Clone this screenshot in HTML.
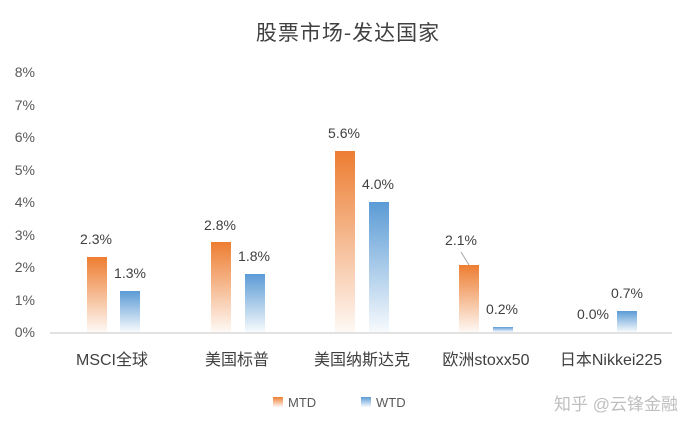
<!DOCTYPE html>
<html><head><meta charset="utf-8"><style>
body{margin:0;background:#fff;}
svg{display:block;font-family:"Liberation Sans","Noto Sans CJK SC",sans-serif;}
</style></head><body>
<svg width="696" height="432" viewBox="0 0 696 432">
<defs>
<linearGradient id="o" x1="0" y1="0" x2="0" y2="1"><stop offset="0" stop-color="#ED7D31"/><stop offset="1" stop-color="#ED7D31" stop-opacity="0.05"/></linearGradient>
<linearGradient id="b" x1="0" y1="0" x2="0" y2="1"><stop offset="0" stop-color="#5B9BD5"/><stop offset="1" stop-color="#5B9BD5" stop-opacity="0.05"/></linearGradient>
</defs>
<text x="348" y="40" text-anchor="middle" font-size="21" fill="#404040" font-family="'Noto Sans CJK SC',sans-serif" letter-spacing="1">股票市场-发达国家</text>
<g font-size="14" fill="#595959" text-anchor="end">
<text x="35" y="337">0%</text><text x="35" y="305">1%</text><text x="35" y="272">2%</text><text x="35" y="240">3%</text><text x="35" y="207">4%</text><text x="35" y="175">5%</text><text x="35" y="142">6%</text><text x="35" y="110">7%</text><text x="35" y="77">8%</text>
</g>
<line x1="50" y1="333" x2="672" y2="333" stroke="#d9d9d9" stroke-width="1.5"/>
<rect x="87" y="257" width="20" height="75" fill="url(#o)"/>
<rect x="120" y="291" width="20" height="41" fill="url(#b)"/>
<rect x="211" y="242" width="20" height="90" fill="url(#o)"/>
<rect x="245" y="274" width="20" height="58" fill="url(#b)"/>
<rect x="335" y="151" width="20" height="181" fill="url(#o)"/>
<rect x="369" y="202" width="20" height="130" fill="url(#b)"/>
<rect x="459" y="265" width="20" height="67" fill="url(#o)"/>
<rect x="493" y="327" width="20" height="5" fill="url(#b)"/>
<rect x="617" y="311" width="20" height="21" fill="url(#b)"/>
<line x1="461" y1="252" x2="469" y2="265" stroke="#a6a6a6"/>
<g font-size="14" fill="#404040" text-anchor="middle">
<text x="96" y="244">2.3%</text><text x="130" y="278">1.3%</text>
<text x="220" y="230">2.8%</text><text x="254" y="261">1.8%</text>
<text x="344" y="138">5.6%</text><text x="378" y="189">4.0%</text>
<text x="461" y="245">2.1%</text><text x="502" y="314">0.2%</text>
<text x="593" y="319">0.0%</text><text x="627" y="298">0.7%</text>
</g>
<g font-size="16" fill="#404040" text-anchor="middle">
<text x="112" y="365">MSCI全球</text><text x="237" y="365">美国标普</text><text x="362" y="365">美国纳斯达克</text><text x="486" y="365">欧洲stoxx50</text><text x="611" y="365">日本Nikkei225</text>
</g>
<rect x="273" y="397" width="10" height="10" fill="url(#o)"/>
<text x="288" y="407" font-size="13" fill="#595959">MTD</text>
<rect x="361" y="397" width="10" height="10" fill="url(#b)"/>
<text x="376" y="407" font-size="13" fill="#595959">WTD</text>
<text x="678" y="410" text-anchor="end" font-size="17" fill="#bfbfbf">知乎 @云锋金融</text>
</svg>
</body></html>
